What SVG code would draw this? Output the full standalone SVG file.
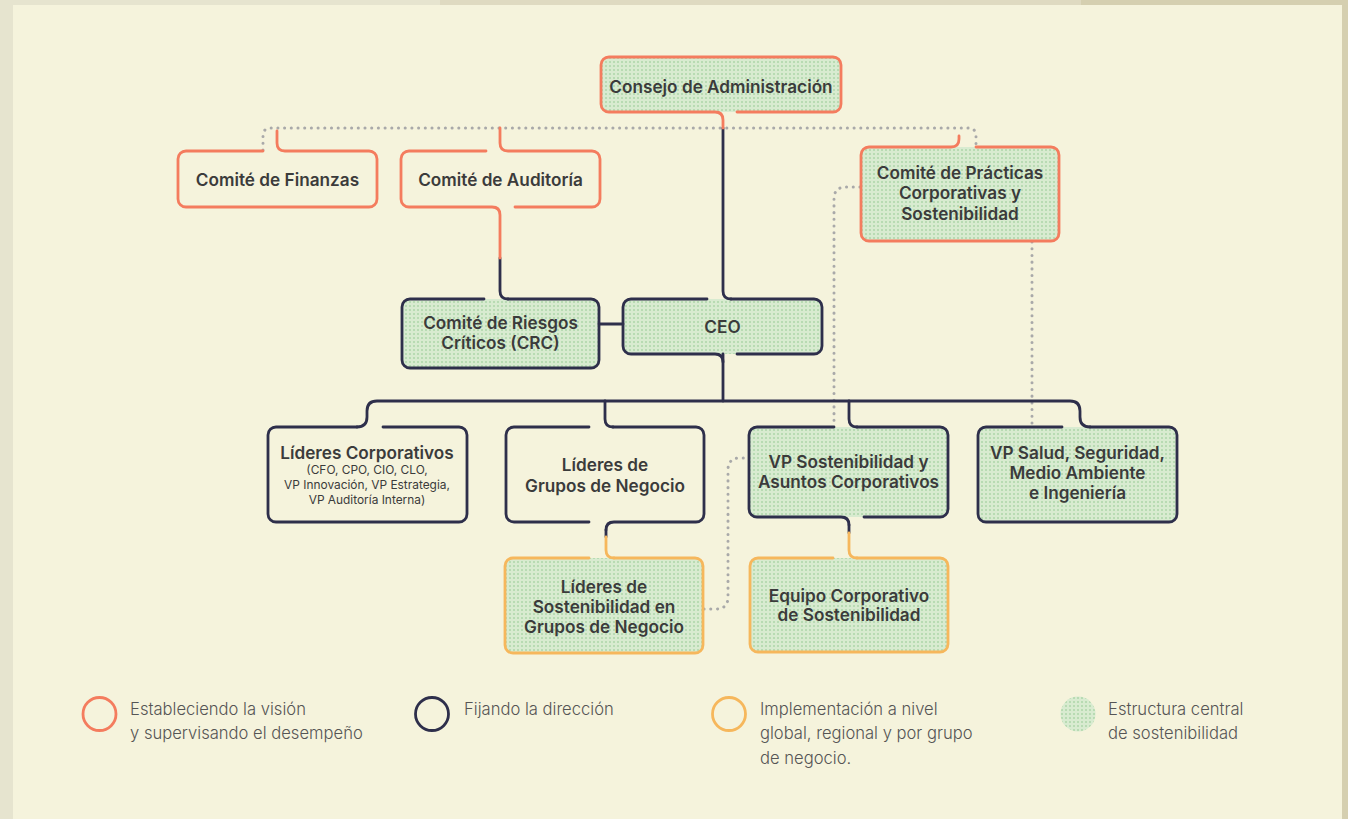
<svg xmlns="http://www.w3.org/2000/svg" width="1348" height="819" viewBox="0 0 1348 819">
<defs>
<pattern id="dots" width="4" height="4" patternUnits="userSpaceOnUse">
<rect width="4" height="4" fill="#d8ebd0"/>
<circle cx="2" cy="2" r="1" fill="#aed6aa"/>
</pattern>
</defs>
<style>
.o{fill:none;stroke:#f47c5e;stroke-width:2.8;stroke-linecap:round;stroke-linejoin:round}
.n{fill:none;stroke:#2e2f4b;stroke-width:2.8;stroke-linecap:round;stroke-linejoin:round}
.y{fill:none;stroke:#f6b75c;stroke-width:2.8;stroke-linecap:round;stroke-linejoin:round}
.d{fill:none;stroke:#a9a9a9;stroke-width:3;stroke-linecap:round;stroke-dasharray:0.1 6.6}
.g{fill:url(#dots)}
.t{font-family:Inter,"Liberation Sans",sans-serif;font-weight:600;font-size:17.2px;fill:#3b3b3b;text-anchor:middle}
.s{font-family:Inter,"Liberation Sans",sans-serif;font-weight:400;font-size:11.9px;fill:#3b3b3b;text-anchor:middle}
.l{font-family:Inter,"Liberation Sans",sans-serif;font-weight:300;font-size:16.6px;fill:#555555}
</style>
<rect x="0" y="0" width="1348" height="819" fill="#e6e4cf"/>
<rect x="440" y="0" width="641" height="6" fill="#dfdac1"/>
<rect x="1081" y="0" width="267" height="819" fill="#d5cfb0"/>
<rect x="13" y="5" width="1329" height="814" fill="#f5f3dc"/>

<g id="fills">
<rect class="g" x="601" y="57" width="240" height="55" rx="8"/>
<rect class="g" x="861" y="147" width="198" height="94" rx="8"/>
<rect class="g" x="402" y="299" width="197" height="69" rx="8"/>
<rect class="g" x="623" y="299" width="199" height="55" rx="8"/>
<rect class="g" x="749" y="427" width="199" height="90" rx="8"/>
<rect class="g" x="978" y="427" width="199" height="95" rx="8"/>
<rect class="g" x="505" y="558" width="198" height="95" rx="8"/>
<rect class="g" x="750" y="558" width="198" height="94" rx="8"/>
</g>

<g id="connectors">
<path class="d" d="M263,150 V136 Q263,128 271,128 H968 Q976,128 976,136 V146"/>
<path class="d" d="M860,187 H846 Q834,187 834,199 V426"/>
<path class="d" d="M1032,242 V426"/>
<path class="d" d="M704,609 H716 Q728,609 728,597 V470 Q728,458 740,458 H748"/>
<path class="n" d="M723,128 V291 Q723,299 731,299"/>
<path class="n" d="M500,258 V291 Q500,299 508,299"/>
<path class="n" d="M599,324 H623"/>
<path class="n" d="M723,354 Q723,354 723,362 V401"/>
<path class="n" d="M357,427 Q367,427 367,417 V411 Q367,401 377,401 H1070 Q1080,401 1080,411 V417 Q1080,427 1090,427"/>
<path class="n" d="M605,401 V419 Q605,427 613,427"/>
<path class="n" d="M849,401 V419 Q849,427 857,427"/>
<path class="n" d="M606,530 V537"/>
<path class="y" d="M606,537 V550 Q606,558 614,558"/>
<path class="n" d="M849,525 V533"/>
<path class="y" d="M849,533 V550 Q849,558 857,558"/>
</g>

<g id="consejo">
<path class="o" d="M737,112 H833 A8,8 0 0 0 841,104 V65 A8,8 0 0 0 833,57 H609 A8,8 0 0 0 601,65 V104 A8,8 0 0 0 609,112 H715 Q723,112 723,120 V128"/>
<text class="t" x="721" y="93">Consejo de Administración</text>
</g>

<g id="finanzas">
<path class="o" d="M263,151 H186 A8,8 0 0 0 178,159 V199 A8,8 0 0 0 186,207 H369 A8,8 0 0 0 377,199 V159 A8,8 0 0 0 369,151 H285 Q277,151 277,143 V131"/>
<text class="t" x="277.5" y="185.5">Comité de Finanzas</text>
</g>

<g id="auditoria">
<path class="o" d="M486,151 H409 A8,8 0 0 0 401,159 V199 A8,8 0 0 0 409,207 H492 Q500,207 500,215 V258"/>
<path class="o" d="M515,207 H592 A8,8 0 0 0 600,199 V159 A8,8 0 0 0 592,151 H508 Q500,151 500,143 V128"/>
<text class="t" x="500.5" y="185.5">Comité de Auditoría</text>
</g>

<g id="practicas">
<path class="o" d="M976,147 H1051 A8,8 0 0 1 1059,155 V233 A8,8 0 0 1 1051,241 H869 A8,8 0 0 1 861,233 V155 A8,8 0 0 1 869,147 H951 Q959,147 959,139 V136"/>
<text class="t" x="960" y="178.5">Comité de Prácticas</text>
<text class="t" x="960" y="199">Corporativas y</text>
<text class="t" x="960" y="219.5">Sostenibilidad</text>
</g>

<g id="crc">
<path class="n" d="M508,299 H591 A8,8 0 0 1 599,307 V360 A8,8 0 0 1 591,368 H410 A8,8 0 0 1 402,360 V307 A8,8 0 0 1 410,299 H484"/>
<text class="t" x="500.5" y="329">Comité de Riesgos</text>
<text class="t" x="500.5" y="349">Críticos (CRC)</text>
</g>

<g id="ceo">
<path class="n" d="M731,299 H814 A8,8 0 0 1 822,307 V346 A8,8 0 0 1 814,354 H737"/>
<path class="n" d="M707,299 H631 A8,8 0 0 0 623,307 V346 A8,8 0 0 0 631,354 H715 Q723,354 723,362"/>
<text class="t" x="722.5" y="333">CEO</text>
</g>

<g id="lideres-corporativos">
<path class="n" d="M383,427 H459 A8,8 0 0 1 467,435 V514 A8,8 0 0 1 459,522 H276 A8,8 0 0 1 268,514 V435 A8,8 0 0 1 276,427 H357"/>
<text class="t" x="367" y="459">Líderes Corporativos</text>
<text class="s" x="367" y="474">(CFO, CPO, CIO, CLO,</text>
<text class="s" x="367" y="489">VP Innovación, VP Estrategia,</text>
<text class="s" x="367" y="504">VP Auditoría Interna)</text>
</g>

<g id="lideres-grupos">
<path class="n" d="M613,427 H696 A8,8 0 0 1 704,435 V514 A8,8 0 0 1 696,522 H614 Q606,522 606,530"/>
<path class="n" d="M589,427 H514 A8,8 0 0 0 506,435 V514 A8,8 0 0 0 514,522 H589"/>
<text class="t" x="605" y="471">Líderes de</text>
<text class="t" x="605" y="491.5">Grupos de Negocio</text>
</g>

<g id="vp-sostenibilidad">
<path class="n" d="M857,427 H940 A8,8 0 0 1 948,435 V509 A8,8 0 0 1 940,517 H864"/>
<path class="n" d="M834,427 H757 A8,8 0 0 0 749,435 V509 A8,8 0 0 0 757,517 H841 Q849,517 849,525"/>
<text class="t" x="848.5" y="468">VP Sostenibilidad y</text>
<text class="t" x="848.5" y="487.5">Asuntos Corporativos</text>
</g>

<g id="vp-salud">
<path class="n" d="M1090,427 H1169 A8,8 0 0 1 1177,435 V514 A8,8 0 0 1 1169,522 H986 A8,8 0 0 1 978,514 V435 A8,8 0 0 1 986,427 H1062"/>
<text class="t" x="1077.5" y="459">VP Salud, Seguridad,</text>
<text class="t" x="1077.5" y="479">Medio Ambiente</text>
<text class="t" x="1077.5" y="499">e Ingeniería</text>
</g>

<g id="lideres-sostenibilidad">
<path class="y" d="M614,558 H695 A8,8 0 0 1 703,566 V645 A8,8 0 0 1 695,653 H513 A8,8 0 0 1 505,645 V566 A8,8 0 0 1 513,558 H589"/>
<text class="t" x="604" y="593">Líderes de</text>
<text class="t" x="604" y="613">Sostenibilidad en</text>
<text class="t" x="604" y="633">Grupos de Negocio</text>
</g>

<g id="equipo">
<path class="y" d="M857,558 H940 A8,8 0 0 1 948,566 V644 A8,8 0 0 1 940,652 H758 A8,8 0 0 1 750,644 V566 A8,8 0 0 1 758,558 H833"/>
<text class="t" x="849" y="602">Equipo Corporativo</text>
<text class="t" x="849" y="621">de Sostenibilidad</text>
</g>

<g id="legend">
<circle cx="99.5" cy="714" r="16.5" fill="none" stroke="#f47c5e" stroke-width="2.8"/>
<text class="l" x="130" y="715">Estableciendo la visión</text>
<text class="l" x="130" y="739">y supervisando el desempeño</text>
<circle cx="432" cy="714" r="16.5" fill="none" stroke="#2e2f4b" stroke-width="2.8"/>
<text class="l" x="464" y="715">Fijando la dirección</text>
<circle cx="729" cy="714" r="16.5" fill="none" stroke="#f6b75c" stroke-width="2.8"/>
<text class="l" x="760" y="715">Implementación a nivel</text>
<text class="l" x="760" y="739">global, regional y por grupo</text>
<text class="l" x="760" y="764">de negocio.</text>
<circle class="g" cx="1078" cy="714" r="17.5"/>
<text class="l" x="1108" y="715">Estructura central</text>
<text class="l" x="1108" y="739">de sostenibilidad</text>
</g>
</svg>
